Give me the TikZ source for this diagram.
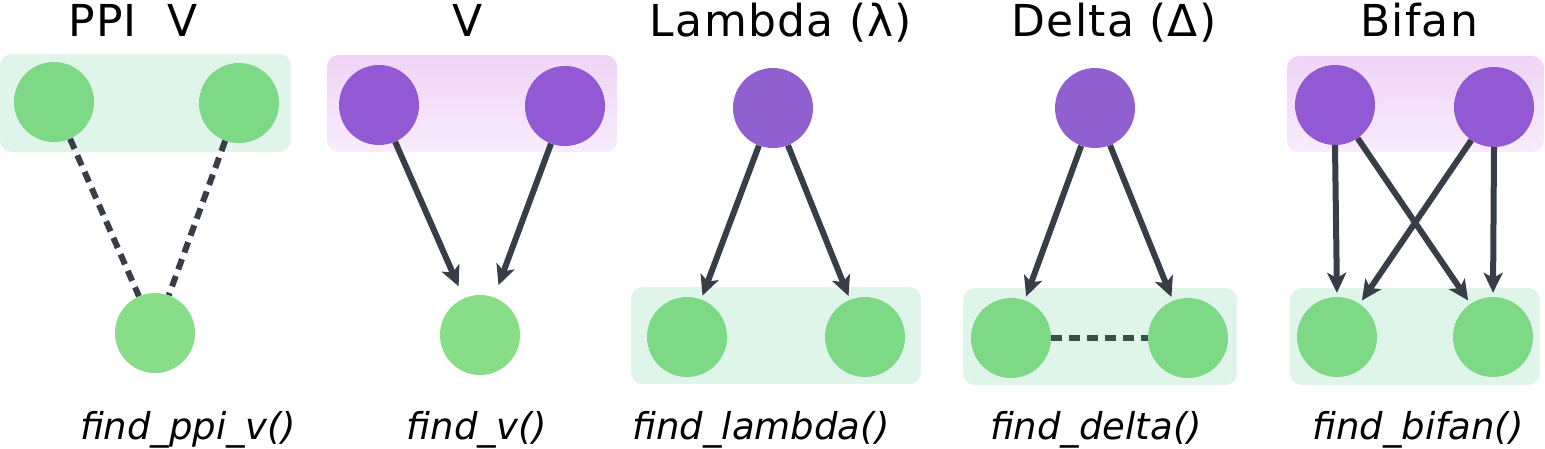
\documentclass[tikz,border=0pt]{standalone}
\usepackage{fontspec}
\setmainfont{DejaVu Sans}
\usetikzlibrary{arrows.meta}
\definecolor{gnode}{HTML}{7ED987}
\definecolor{gnodel}{HTML}{88DD88}
\definecolor{gbox}{HTML}{E0F5E9}
\definecolor{pnode}{HTML}{9358D3}
\definecolor{pnodel}{HTML}{9060D0}
\definecolor{ptop}{HTML}{EFD4F6}
\definecolor{pbot}{HTML}{F8ECFC}
\definecolor{edgec}{HTML}{383E48}
\definecolor{dashg}{HTML}{37524D}
\tikzset{
  vnode/.style={circle,minimum size=80pt,inner sep=0pt,fill=#1},
  title/.style={anchor=base,font=\fontsize{44}{50}\selectfont\addfontfeature{LetterSpace=3}},
  fname/.style={anchor=base,font=\fontsize{37}{42}\selectfont\itshape},
  arr/.style={draw=edgec,line width=6pt,shorten >=4pt,-{Stealth[length=20pt,width=19pt,inset=5pt]}},
  dsh/.style={draw=#1,line width=6pt,dash pattern=on 11pt off 7pt},
  gboxs/.style={fill=gbox,rounded corners=12pt},
  pboxs/.style={top color=ptop,bottom color=pbot,rounded corners=12pt}
}
\begin{document}
\begin{tikzpicture}[x=1pt,y=-1pt]
\useasboundingbox (0,0) rectangle (1545,448);
% backgrounds
\fill[gboxs] (0,54) rectangle (291,152);
\shade[pboxs] (327,55) rectangle (617,152);
\fill[gboxs] (631,287) rectangle (921,384);
\fill[gboxs] (963,288) rectangle (1237,385);
\shade[pboxs] (1287,56) rectangle (1544,152);
\fill[gboxs] (1290,288) rectangle (1540,385);
% titles
\node[title] (t1) at (133,36) {PPI\ \ V};
\node[title] (t2) at (468,36) {V};
\node[title] (t3) at (781,36) {Lambda (λ)};
\node[title] (t4) at (1114,36) {Delta (Δ)};
\node[title] (t5) at (1419,36) {Bifan};
% labels
\node[fname] (f1) at (188,439) {find\_ppi\_v()};
\node[fname] (f2) at (477,439) {find\_v()};
\node[fname] (f3) at (761,439) {find\_lambda()};
\node[fname] (f4) at (1096,439) {find\_delta()};
\node[fname] (f5) at (1418,439) {find\_bifan()};
% panel 1
\node[vnode=gnode] (a1) at (54,102) {};
\node[vnode=gnode] (a2) at (239,103) {};
\node[vnode=gnodel] (a3) at (155,333) {};
\draw[dsh=edgec] (a1) -- (a3);
\draw[dsh=edgec] (a2) -- (a3);
% panel 2
\node[vnode=pnode] (b1) at (379,105) {};
\node[vnode=pnode] (b2) at (565,106) {};
\node[vnode=gnodel] (b3) at (480,335) {};
\draw[arr,shorten >=13pt] (b1) -- (b3);
\draw[arr,shorten >=13pt] (b2) -- (b3);
% panel 3
\node[vnode=pnodel] (c1) at (773,108) {};
\node[vnode=gnode] (c2) at (687,337) {};
\node[vnode=gnode] (c3) at (865,337) {};
\draw[arr] (c1) -- (c2);
\draw[arr] (c1) -- (c3);
% panel 4
\node[vnode=pnodel] (d1) at (1095,108) {};
\node[vnode=gnode] (d2) at (1011,338) {};
\node[vnode=gnode] (d3) at (1188,338) {};
\draw[arr] (d1) -- (d2);
\draw[arr] (d1) -- (d3);
\draw[dsh=dashg] (d2) -- (d3);
% panel 5
\node[vnode=pnode] (e1) at (1335,105) {};
\node[vnode=pnode] (e2) at (1494,107) {};
\node[vnode=gnode] (e3) at (1337,337) {};
\node[vnode=gnode] (e4) at (1493,337) {};
\draw[arr] (e1.south) -- (e3.north);
\draw[arr] (e2.south) -- (e4.north);
\draw[arr] (e1) -- (e4);
\draw[arr] (e2) -- (e3);
\end{tikzpicture}
\end{document}
